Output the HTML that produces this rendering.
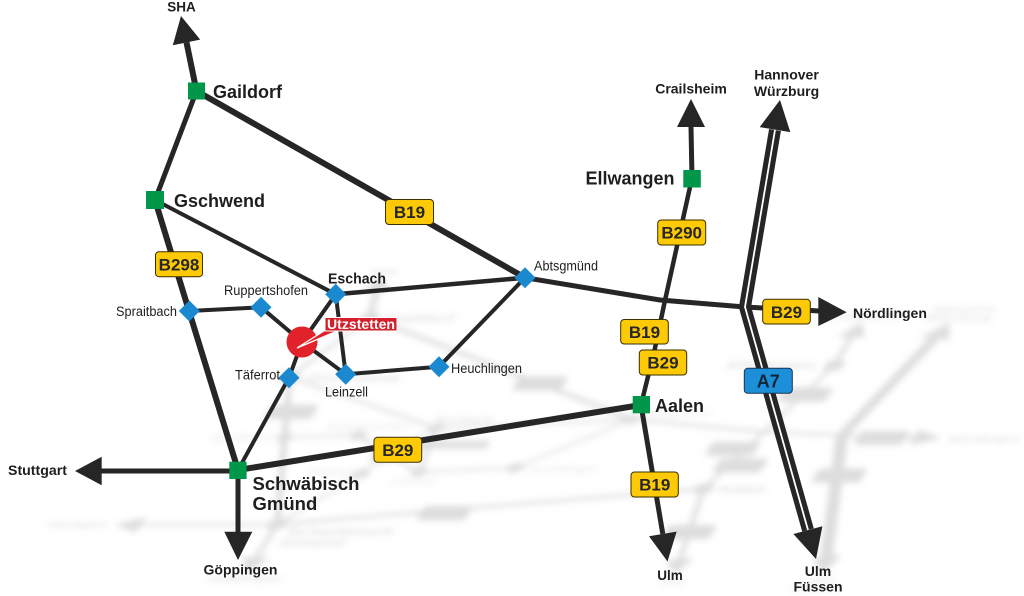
<!DOCTYPE html>
<html><head><meta charset="utf-8"><style>
html,body{margin:0;padding:0;background:#fff;}
svg{display:block;}
text{font-family:"Liberation Sans",Arial,sans-serif;fill:#1e1e1e;}
.b{font-weight:bold;}
.lb{font-weight:bold;font-size:17px;fill:#262626;}
</style></head><body>
<svg xmlns="http://www.w3.org/2000/svg" xmlns:xlink="http://www.w3.org/1999/xlink" width="1024" height="596" viewBox="0 0 1024 596">
<defs>
<filter id="sh" filterUnits="userSpaceOnUse" x="0" y="0" width="1024" height="596">
<feColorMatrix type="matrix" values="0 0 0 0 0.5  0 0 0 0 0.5  0 0 0 0 0.5  0 0 0 0.5 0"/>
<feGaussianBlur stdDeviation="3.2"/>
</filter>
<g id="map">
<g fill="none" stroke="#262626" stroke-linejoin="round">
<line x1="196.5" y1="91" x2="186.5" y2="42.4" stroke-width="6"/>
<line x1="196.5" y1="91" x2="155" y2="200" stroke-width="5"/>
<line x1="196.5" y1="91" x2="525" y2="277.7" stroke-width="6"/>
<polyline points="155,200 189,311 238,470" stroke-width="6"/>
<line x1="238" y1="470" x2="641" y2="405" stroke-width="6"/>
<polyline points="525,277.7 660,300 745,307 820,311" stroke-width="5"/>
<line x1="692" y1="178" x2="691" y2="127" stroke-width="5"/>
<polyline points="692,178 664,305 655,348 641,405" stroke-width="4.5"/>
<line x1="641" y1="405" x2="662.8" y2="533.9" stroke-width="5"/>
<line x1="238" y1="471" x2="101" y2="471" stroke-width="5"/>
<line x1="238" y1="470" x2="238" y2="533" stroke-width="5"/>
<line x1="155" y1="200" x2="335.7" y2="294.3" stroke-width="4"/>
<polyline points="189,311 261,307.3 302,342" stroke-width="4"/>
<line x1="335.7" y1="294.3" x2="302" y2="342" stroke-width="4"/>
<line x1="335.7" y1="294.3" x2="345.7" y2="374.3" stroke-width="4"/>
<line x1="335.7" y1="294.3" x2="525" y2="277.7" stroke-width="4.5"/>
<line x1="302" y1="342" x2="345.7" y2="374.3" stroke-width="4"/>
<polyline points="345.7,374.3 439,366.7 525,277.7" stroke-width="4"/>
<polyline points="238,470 289,377.7 302,342" stroke-width="4"/>
<polyline points="775,130 745,307 808,530" stroke-width="12" stroke-linejoin="miter"/>
<polyline points="775,130 745,307 808,530" stroke="#fff" stroke-width="1.8" stroke-linejoin="miter"/>
</g>
<g fill="#262626">
<polygon points="181,16 200.2,39.6 172.8,45.2"/>
<polygon points="691,99 705,127 677,127"/>
<polygon points="780,100 790.3,132.1 759.7,127.1"/>
<polygon points="816,559 793.4,534 822.4,526.2"/>
<polygon points="667.5,561.5 649,536.2 676.6,531.6"/>
<polygon points="846.7,312.3 818.3,297 818.3,326"/>
<polygon points="75,471 101.7,456.7 101.7,485.3"/>
<polygon points="238,560 224.3,531.7 252.3,531.7"/>
</g>
<g fill="#00974a">
<rect x="188" y="82.5" width="17" height="17"/>
<rect x="146" y="191" width="18" height="18"/>
<rect x="683.3" y="170" width="17.5" height="17.5"/>
<rect x="632.7" y="396" width="17.3" height="17.3"/>
<rect x="229.3" y="461.7" width="17.3" height="17.3"/>
</g>
<g fill="#1b89d0">
<polygon points="189.3,300.5 199.8,311 189.3,321.5 178.8,311"/>
<polygon points="261,296.8 271.5,307.3 261,317.8 250.5,307.3"/>
<polygon points="335.7,283.8 346.2,294.3 335.7,304.8 325.2,294.3"/>
<polygon points="525,267.2 535.5,277.7 525,288.2 514.5,277.7"/>
<polygon points="289,367.2 299.5,377.7 289,388.2 278.5,377.7"/>
<polygon points="345.7,363.8 356.2,374.3 345.7,384.8 335.2,374.3"/>
<polygon points="439,356.2 449.5,366.7 439,377.2 428.5,366.7"/>
</g>
<circle cx="302" cy="342" r="15.5" fill="#e2222b"/>
<polygon points="297,348 327,329 342,329" fill="#e2222b" stroke="#fff" stroke-width="1.3" stroke-linejoin="miter"/>
<rect x="325" y="317.5" width="72" height="13.5" fill="#d3202a" stroke="#fff" stroke-width="1"/>
<text x="327" y="329" class="b" font-size="14" style="fill:#fff" textLength="68" lengthAdjust="spacingAndGlyphs">Utzstetten</text>
<g fill="#fdca05" stroke="#3a3000" stroke-width="1">
<rect x="385.5" y="199.5" width="48" height="25" rx="3.5"/>
<rect x="155.5" y="251.7" width="47" height="25" rx="3.5"/>
<rect x="374" y="437.3" width="47.7" height="25" rx="3.5"/>
<rect x="762.7" y="299.3" width="47.6" height="24.7" rx="3.5"/>
<rect x="657.7" y="220" width="48" height="25" rx="3.5"/>
<rect x="620.7" y="319.5" width="47.6" height="24.5" rx="3.5"/>
<rect x="639.3" y="350" width="47.4" height="25" rx="3.5"/>
<rect x="631" y="472" width="47.3" height="25" rx="3.5"/>
</g>
<rect x="744.3" y="368.3" width="48" height="25" rx="3.5" fill="#1d8fd8" stroke="#1a3550" stroke-width="1"/>
<g text-anchor="middle">
<text class="lb" x="409.5" y="218">B19</text>
<text class="lb" x="179" y="270.3">B298</text>
<text class="lb" x="397.8" y="456">B29</text>
<text class="lb" x="786.5" y="318">B29</text>
<text class="lb" x="681.7" y="238.6">B290</text>
<text class="lb" x="644.5" y="338">B19</text>
<text class="lb" x="663" y="368.6">B29</text>
<text class="lb" x="654.7" y="490.6">B19</text>
<text class="lb" x="768.3" y="387.5" style="font-size:18px;fill:#13263a">A7</text>
</g>
<text class="b" x="181.5" y="11.5" font-size="13.5" text-anchor="middle">SHA</text>
<text class="b" x="213" y="98" font-size="18">Gaildorf</text>
<text class="b" x="174" y="207" font-size="18">Gschwend</text>
<text class="b" x="674.5" y="184.5" font-size="18" text-anchor="end">Ellwangen</text>
<text class="b" x="691" y="93.5" font-size="14" text-anchor="middle">Crailsheim</text>
<text class="b" x="786.5" y="79.5" font-size="14" text-anchor="middle">Hannover</text>
<text class="b" x="786.5" y="96" font-size="14" text-anchor="middle">Würzburg</text>
<text class="b" x="853" y="318" font-size="14">Nördlingen</text>
<text class="b" x="655" y="412" font-size="18">Aalen</text>
<text class="b" x="252.5" y="490" font-size="18.5">Schwäbisch</text>
<text class="b" x="252.5" y="510" font-size="18.5">Gmünd</text>
<text class="b" x="8" y="475" font-size="13.5" textLength="59" lengthAdjust="spacingAndGlyphs">Stuttgart</text>
<text class="b" x="240.5" y="574.5" font-size="14" text-anchor="middle">Göppingen</text>
<text class="b" x="670" y="580" font-size="13.5" text-anchor="middle">Ulm</text>
<text class="b" x="818" y="576" font-size="14" text-anchor="middle">Ulm</text>
<text class="b" x="818" y="591.5" font-size="14" text-anchor="middle">Füssen</text>
<text x="116" y="316" font-size="13.5" textLength="61" lengthAdjust="spacingAndGlyphs">Spraitbach</text>
<text x="224" y="295" font-size="13.5" textLength="84" lengthAdjust="spacingAndGlyphs">Ruppertshofen</text>
<text class="b" x="328" y="283.5" font-size="15" textLength="58" lengthAdjust="spacingAndGlyphs">Eschach</text>
<text x="235" y="379.5" font-size="13.5" textLength="45" lengthAdjust="spacingAndGlyphs">Täferrot</text>
<text x="325" y="396.5" font-size="13.5" textLength="43" lengthAdjust="spacingAndGlyphs">Leinzell</text>
<text x="451" y="373" font-size="13.5" textLength="71" lengthAdjust="spacingAndGlyphs">Heuchlingen</text>
<text x="534" y="270.5" font-size="13.5" textLength="64" lengthAdjust="spacingAndGlyphs">Abtsgmünd</text>
</g>
</defs>
<rect width="1024" height="596" fill="#fff"/>
<g filter="url(#sh)">
<use href="#map" xlink:href="#map" transform="matrix(1,0,-0.352,0.545,205,268)"/>
</g>
<use href="#map" xlink:href="#map"/>
</svg>
</body></html>
